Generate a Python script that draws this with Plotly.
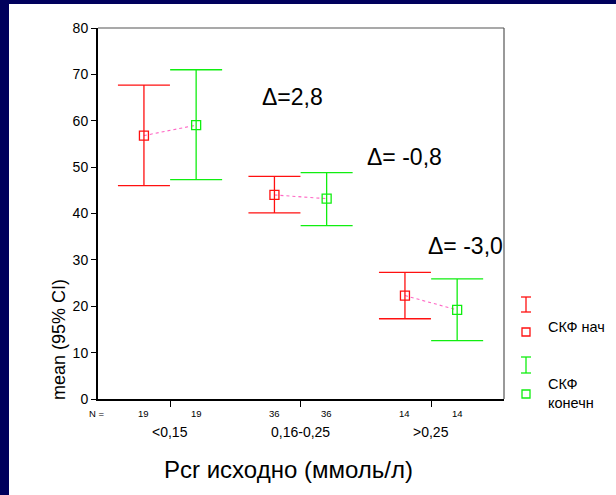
import plotly.graph_objects as go

# ---- data ----
categories = ["<0,15", "0,16-0,25", ">0,25"]
n_counts_start = [19, 36, 14]
n_counts_end = [19, 36, 14]
mean_start = [56.8, 44.0, 22.3]
upper_start = [67.7, 48.0, 27.3]
lower_start = [46.0, 40.15, 17.3]
mean_end = [59.05, 43.2, 19.2]
upper_end = [71.0, 48.8, 25.9]
lower_end = [47.3, 37.4, 12.6]
delta_labels = ["\u0394=2,8", "\u0394= -0,8", "\u0394= -3,0"]
legend_names = ["СКФ нач", "СКФ<br>конечн"]

RED = "#ff1010"
GREEN = "#10ee10"
PINK = "#ff66c4"
FONT = "Arial, Liberation Sans, sans-serif"

W, H = 616, 495
L, R, T, B = 98, 112, 28, 96
PW, PH = W - L - R, H - T - B

def px(xp):
    return (xp - L) / PW

def py(yp):
    return (H - B - yp) / PH

off = 0.2
xs_start = [i - off for i in range(len(categories))]
xs_end = [i + off for i in range(len(categories))]

fig = go.Figure()

# connecting dotted lines
for i in range(len(categories)):
    fig.add_trace(go.Scatter(
        x=[xs_start[i], xs_end[i]], y=[mean_start[i], mean_end[i]],
        mode="lines", line=dict(color=PINK, width=1.1, dash="dot"),
        showlegend=False, hoverinfo="skip"))

fig.add_trace(go.Scatter(
    x=xs_start, y=mean_start, mode="markers",
    marker=dict(symbol="square-open", size=9, color=RED, line=dict(width=1.3)),
    error_y=dict(type="data", symmetric=False,
                 array=[u - m for u, m in zip(upper_start, mean_start)],
                 arrayminus=[m - l for m, l in zip(mean_start, lower_start)],
                 color=RED, thickness=1.3, width=26),
    showlegend=False))

fig.add_trace(go.Scatter(
    x=xs_end, y=mean_end, mode="markers",
    marker=dict(symbol="square-open", size=9, color=GREEN, line=dict(width=1.3)),
    error_y=dict(type="data", symmetric=False,
                 array=[u - m for u, m in zip(upper_end, mean_end)],
                 arrayminus=[m - l for m, l in zip(mean_end, lower_end)],
                 color=GREEN, thickness=1.3, width=26),
    showlegend=False))

shapes = []
# white panel
shapes.append(dict(type="rect", xref="paper", yref="paper",
                   x0=px(9), x1=px(W + 2), y0=py(4), y1=py(H + 2),
                   fillcolor="white", line=dict(width=0), layer="below"))
# top and right frame (gray)
shapes.append(dict(type="line", xref="paper", yref="paper", x0=0, x1=1, y0=1, y1=1,
                   line=dict(color="#555555", width=1.2)))
shapes.append(dict(type="line", xref="paper", yref="paper", x0=1, x1=1, y0=0, y1=1,
                   line=dict(color="#555555", width=1.2)))

# legend icons
def ibar(xc, y0, y1, color):
    shapes.append(dict(type="line", xref="paper", yref="paper",
                       x0=px(xc), x1=px(xc), y0=py(y0), y1=py(y1),
                       line=dict(color=color, width=1.3)))
    for yy in (y0, y1):
        shapes.append(dict(type="line", xref="paper", yref="paper",
                           x0=px(xc - 5), x1=px(xc + 5), y0=py(yy), y1=py(yy),
                           line=dict(color=color, width=1.3)))

def sq(xc, yc, color):
    shapes.append(dict(type="rect", xref="paper", yref="paper",
                       x0=px(xc - 4), x1=px(xc + 4), y0=py(yc - 4), y1=py(yc + 4),
                       line=dict(color=color, width=1.3)))

ibar(526, 297, 312, RED)
sq(526, 332, RED)
ibar(526, 357, 373, GREEN)
sq(526, 394, GREEN)

annotations = []
annotations.append(dict(text=legend_names[0], xref="paper", yref="paper",
                        x=px(546), y=py(327), xanchor="left", yanchor="middle",
                        showarrow=False, font=dict(family=FONT, size=14.5, color="black")))
annotations.append(dict(text=legend_names[1], xref="paper", yref="paper",
                        x=px(546), y=py(393), xanchor="left", yanchor="middle",
                        showarrow=False, align="left",
                        font=dict(family=FONT, size=14.5, color="black")))

# N row
annotations.append(dict(text="N =", xref="paper", yref="paper", x=px(97), y=py(413),
                        xanchor="center", yanchor="middle", showarrow=False,
                        font=dict(family=FONT, size=9.5, color="black")))
for i in range(len(categories)):
    annotations.append(dict(text=str(n_counts_start[i]), xref="x", yref="paper",
                            x=xs_start[i], y=py(413), xanchor="center", yanchor="middle",
                            showarrow=False, font=dict(family=FONT, size=9.5, color="black")))
    annotations.append(dict(text=str(n_counts_end[i]), xref="x", yref="paper",
                            x=xs_end[i], y=py(413), xanchor="center", yanchor="middle",
                            showarrow=False, font=dict(family=FONT, size=9.5, color="black")))
    annotations.append(dict(text=categories[i], xref="x", yref="paper",
                            x=i, y=py(432), xanchor="center", yanchor="middle",
                            showarrow=False, font=dict(family=FONT, size=14, color="black")))

# delta labels
delta_pos = [(0.935, 65.2), (1.80, 52.1), (2.263, 33.0)]
for lab, (dx, dy) in zip(delta_labels, delta_pos):
    annotations.append(dict(text=lab, xref="x", yref="y", x=dx, y=dy,
                            xanchor="center", yanchor="middle", showarrow=False,
                            font=dict(family=FONT, size=23, color="black")))

# axis titles
annotations.append(dict(text="Pcr исходно (ммоль/л)", xref="paper", yref="paper",
                        x=px(288), y=py(469), xanchor="center", yanchor="middle",
                        showarrow=False, font=dict(family=FONT, size=24, color="black")))
annotations.append(dict(text="mean (95% CI)", xref="paper", yref="paper",
                        x=px(59), y=py(340), xanchor="center", yanchor="middle",
                        textangle=-90, showarrow=False,
                        font=dict(family=FONT, size=18, color="black")))

fig.update_layout(
    width=W, height=H,
    margin=dict(l=L, r=R, t=T, b=B),
    paper_bgcolor="#00005c",
    plot_bgcolor="white",
    shapes=shapes,
    annotations=annotations,
    showlegend=False,
    xaxis=dict(range=[-0.552, 2.559], tickvals=[0, 1, 2], ticktext=["", "", ""],
               ticks="outside", ticklen=6, tickcolor="black", tickwidth=1.2,
               showline=True, linecolor="black", linewidth=2,
               showgrid=False, zeroline=False, fixedrange=True),
    yaxis=dict(range=[0, 80], tickvals=[0, 10, 20, 30, 40, 50, 60, 70, 80],
               ticks="outside", ticklen=5, tickcolor="black", tickwidth=1.2,
               showline=True, linecolor="black", linewidth=2,
               tickfont=dict(family=FONT, size=14, color="black"),
               showgrid=False, zeroline=False, fixedrange=True),
)

fig.write_html("out.html",
               config={"displayModeBar": False},
               post_script="document.body.style.margin='0';document.body.style.padding='0';document.body.style.overflow='hidden';")
